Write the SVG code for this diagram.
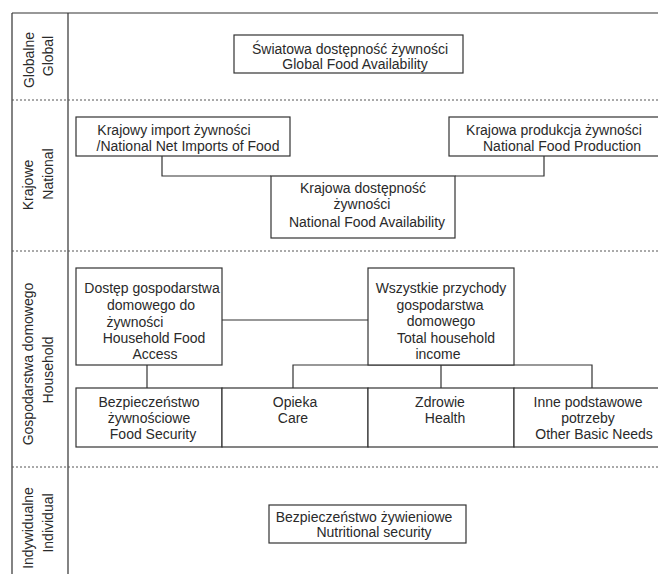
<svg xmlns="http://www.w3.org/2000/svg" width="658" height="574" viewBox="0 0 658 574">
<style>
  .bx{fill:#fff;stroke:#333;stroke-width:1.2}
  .ln{fill:none;stroke:#333;stroke-width:1.2}
  .dot{fill:none;stroke:#555;stroke-width:1;stroke-dasharray:2,2}
  text{font-family:"Liberation Sans",Arial,sans-serif;font-size:14px;fill:#2a2a2a;text-anchor:middle}
</style>
<rect width="658" height="574" fill="#fff"/>
<g id="frame">
  <path class="ln" d="M12,13 H658 M12,13 V574 M68,13 V574"/>
  <path class="dot" d="M12,100 H658 M12,251 H658 M12,467 H658"/>
</g>
<g id="levels">
  <text transform="translate(34,60) rotate(-90)">Globalne</text>
  <text transform="translate(53,56) rotate(-90)">Global</text>
  <text transform="translate(33,185) rotate(-90)">Krajowe</text>
  <text transform="translate(53,174) rotate(-90)">National</text>
  <text transform="translate(33,364) rotate(-90)">Gospodarstwa domowego</text>
  <text transform="translate(53,370) rotate(-90)">Household</text>
  <text transform="translate(33,528) rotate(-90)">Indywidualne</text>
  <text transform="translate(53,523) rotate(-90)">Individual</text>
</g>
<g id="connectors">
  <path class="ln" d="M162,156 V176 H271"/>
  <path class="ln" d="M544,156 V176 H455"/>
  <path class="ln" d="M222,320 H368"/>
  <path class="ln" d="M147,365 V388"/>
  <path class="ln" d="M293,388 V365 H592 V388 M441,365 V388"/>
</g>
<g id="global">
  <rect class="bx" x="234" y="35" width="229" height="38"/>
  <text x="350" y="54">Światowa dostępność żywności</text>
  <text x="355" y="68.5">Global Food Availability</text>
</g>
<g id="imports">
  <rect class="bx" x="76" y="117" width="214" height="39"/>
  <text x="174" y="135">Krajowy import żywności</text>
  <text x="188" y="151">/National Net Imports of Food</text>
</g>
<g id="production">
  <rect class="bx" x="449" y="117" width="215" height="39"/>
  <text x="554" y="135">Krajowa produkcja żywności</text>
  <text x="562" y="151">National Food Production</text>
</g>
<g id="national-availability">
  <rect class="bx" x="271" y="176" width="184" height="62"/>
  <text x="363" y="193">Krajowa dostępność</text>
  <text x="362" y="209">żywności</text>
  <text x="367" y="227">National Food Availability</text>
</g>
<g id="household-access">
  <rect class="bx" x="76" y="268" width="146" height="97"/>
  <text x="152" y="293">Dostęp gospodarstwa</text>
  <text x="151" y="310">domowego do</text>
  <text x="135" y="327">żywności</text>
  <text x="154" y="343">Household Food</text>
  <text x="155" y="359">Access</text>
</g>
<g id="household-income">
  <rect class="bx" x="368" y="268" width="146" height="97"/>
  <text x="441" y="293">Wszystkie przychody</text>
  <text x="440" y="310">gospodarstwa</text>
  <text x="441" y="326">domowego</text>
  <text x="446" y="343">Total household</text>
  <text x="438" y="359">income</text>
</g>
<g id="food-security">
  <rect class="bx" x="76" y="388" width="146" height="59"/>
  <text x="149" y="407">Bezpieczeństwo</text>
  <text x="149" y="423">żywnościowe</text>
  <text x="153" y="439">Food Security</text>
</g>
<g id="care">
  <rect class="bx" x="222" y="388" width="146" height="59"/>
  <text x="295" y="407">Opieka</text>
  <text x="293" y="423">Care</text>
</g>
<g id="health">
  <rect class="bx" x="368" y="388" width="146" height="59"/>
  <text x="440" y="407">Zdrowie</text>
  <text x="445" y="423">Health</text>
</g>
<g id="other-needs">
  <rect class="bx" x="514" y="388" width="150" height="59"/>
  <text x="588" y="407">Inne podstawowe</text>
  <text x="588" y="423">potrzeby</text>
  <text x="594" y="439">Other Basic Needs</text>
</g>
<g id="nutritional-security">
  <rect class="bx" x="269" y="505" width="197" height="38"/>
  <text x="364" y="522">Bezpieczeństwo żywieniowe</text>
  <text x="374" y="537">Nutritional security</text>
</g>
</svg>
